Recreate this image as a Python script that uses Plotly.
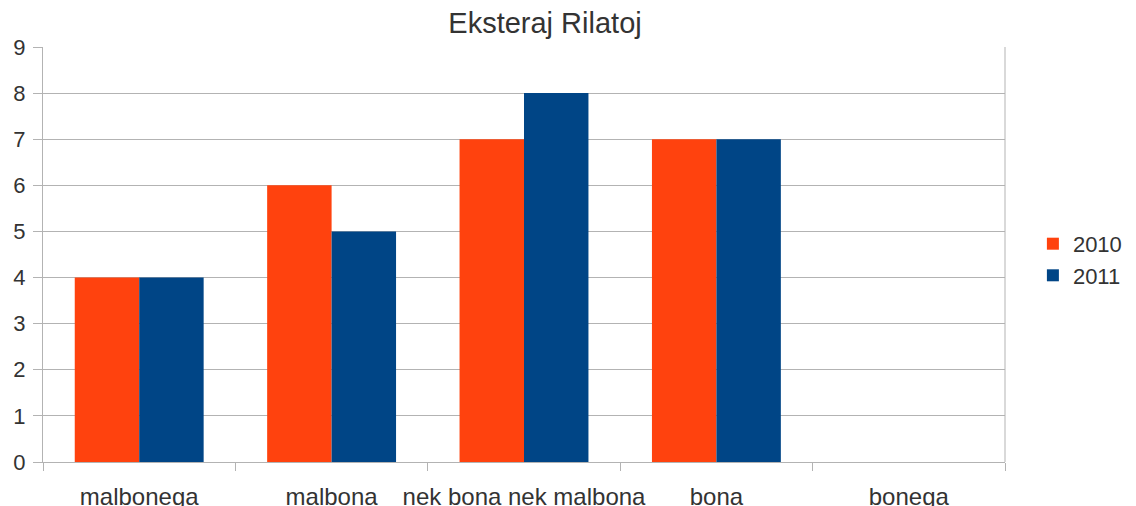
import plotly.graph_objects as go

categories = ["malbonega", "malbona", "nek bona nek malbona", "bona", "bonega"]
values_2010 = [4, 6, 7, 7, None]
values_2011 = [4, 5, 8, 7, None]
series_names = ["2010", "2011"]
title_text = "Eksteraj Rilatoj"

fig = go.Figure()
fig.add_trace(go.Bar(x=categories, y=values_2010, name=series_names[0],
                     marker=dict(color="#FF420E", line=dict(width=0))))
fig.add_trace(go.Bar(x=categories, y=values_2011, name=series_names[1],
                     marker=dict(color="#004586", line=dict(width=0))))

font_fam = "Liberation Sans, Arial, sans-serif"
W, H = 1128, 498
fig.update_layout(
    width=W, height=H,
    margin=dict(l=35, r=131, t=39, b=44, autoexpand=False),
    paper_bgcolor="white", plot_bgcolor="white",
    barmode="group", bargap=0.33, bargroupgap=0,
    font=dict(family=font_fam, size=22, color="#333333"),
    title=dict(text=title_text, x=537/W, xanchor="center", y=1 - 15/H, yanchor="middle",
               font=dict(size=29, color="#333333", family=font_fam)),
    legend=dict(x=1.029, xanchor="left", y=0.487, yanchor="middle",
                font=dict(size=22, color="#333333"), itemwidth=30,
                tracegroupgap=0, bgcolor="rgba(0,0,0,0)"),
    xaxis=dict(type="category", tickson="boundaries", ticks="outside", ticklen=8,
               tickcolor="#b3b3b3", showline=True, linecolor="#b3b3b3", mirror=False,
               showgrid=False, tickfont=dict(size=24, color="#333333"),
               tickangle=0, automargin=False, ticklabelstandoff=13),
    yaxis=dict(range=[0, 9], dtick=1, ticks="outside", ticklen=9, tickcolor="#b3b3b3",
               showline=True, linecolor="#b3b3b3", gridcolor="#b3b3b3", gridwidth=1,
               zeroline=False, tickfont=dict(size=22, color="#333333"),
               automargin=False, ticklabelstandoff=3),
)
fig.add_shape(type="line", xref="paper", yref="paper", x0=1, x1=1, y0=0, y1=1,
              line=dict(color="#b3b3b3", width=1))
fig.write_html("out.html")
